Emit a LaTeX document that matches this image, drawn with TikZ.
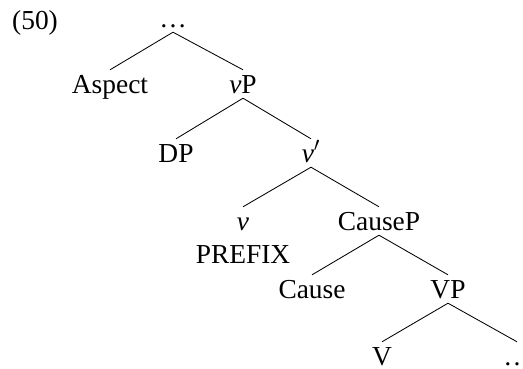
\documentclass[tikz,border=0pt]{standalone}
\usepackage{fontspec}
\setmainfont{Liberation Serif}
\begin{document}
\begin{tikzpicture}[x=0.025cm,y=-0.025cm,font=\fontsize{19.5}{22}\selectfont,
		lbl/.style={anchor=base,inner xsep=0pt,inner ysep=3.5pt,text height=12.8pt,text depth=0pt},
		branch/.style={line width=0.6pt}]
	\useasboundingbox (0,0) rectangle (523,368);
	\node[lbl] (ex) at (35,29) {(50)};
	\node[lbl] (top) at (173,27) {\dots};
	\node[lbl] (asp) at (110,93) {Aspect};
	\node[lbl] (vP) at (243,93) {\textit{v}P};
	\node[lbl] (DP) at (176,162) {DP};
	\node[lbl] (vbar) at (311,162) {\textit{v}$'$};
	\node[lbl] (v) at (243,230) {\textit{v}};
	\node[lbl] (pref) at (243,263) {PREFIX};
	\node[lbl] (CauseP) at (379,230) {CauseP};
	\node[lbl] (Cause) at (312,298) {Cause};
	\node[lbl] (VP) at (448,298) {VP};
	\node[lbl] (V) at (382,365) {V};
	\node[lbl] (rest) at (517,365) {\dots};
	\draw[branch] (top.south)--(asp.north) (top.south)--(vP.north);
	\draw[branch] (vP.south)--(DP.north) (vP.south)--(vbar.north);
	\draw[branch] (vbar.south)--(v.north) (vbar.south)--(CauseP.north);
	\draw[branch] (CauseP.south)--(Cause.north) (CauseP.south)--(VP.north);
	\draw[branch] (VP.south)--(V.north) (VP.south)--(rest.north);
\end{tikzpicture}
\end{document}
